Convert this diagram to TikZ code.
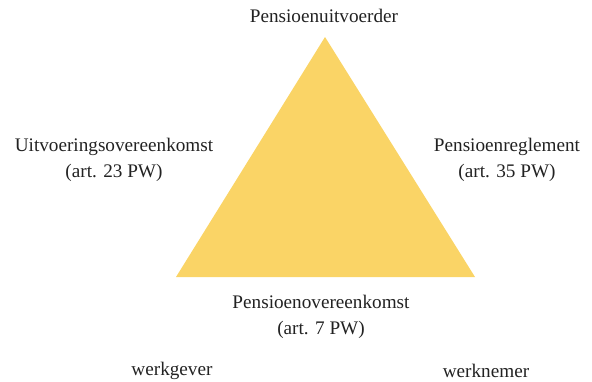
\documentclass[tikz,border=0pt]{standalone}
\usepackage{fontspec}
\setmainfont{Liberation Serif}
\definecolor{triyellow}{HTML}{FAD466}
\definecolor{txtgray}{HTML}{222222}
\begin{document}
\begin{tikzpicture}[x=1pt,y=-1pt,
  lbl/.style={font=\fontsize{19.2}{25.5}\selectfont,text=txtgray,align=center,inner sep=0pt}]
\useasboundingbox (0,0) rectangle (592,381);
\fill[triyellow] (325,37) coordinate (apex) -- (475,277) coordinate (br) -- (176,277) coordinate (bl) -- cycle;
\node[lbl] (top) at (324,16) {Pensioenuitvoerder};
\node[lbl] (left) at (114,160) {Uitvoeringsovereenkomst\\(art. 23 PW)};
\node[lbl] (right) at (507,160) {Pensioenreglement\\(art. 35 PW)};
\node[lbl] (bottom) at (321,317) {Pensioenovereenkomst\\(art. 7 PW)};
\node[lbl] (wg) at (172,371) {werkgever};
\node[lbl] (wn) at (486,371) {werknemer};
\end{tikzpicture}
\end{document}
